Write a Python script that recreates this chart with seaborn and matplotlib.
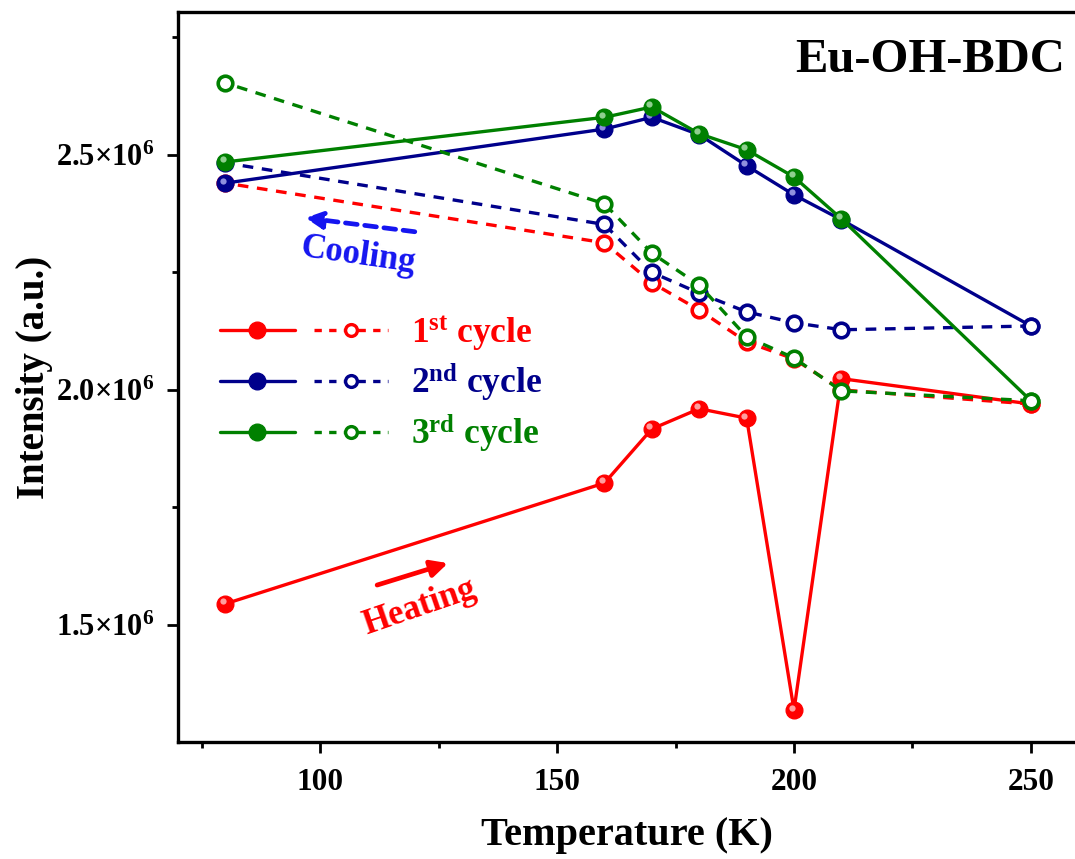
import matplotlib
matplotlib.use("Agg")
import matplotlib.pyplot as plt
import matplotlib.transforms as mtransforms
import seaborn as sns
import numpy as np
import pandas as pd
from matplotlib.lines import Line2D
from matplotlib.legend_handler import HandlerTuple
from matplotlib.ticker import MultipleLocator

# ---------------- data ----------------
temp_heat = [80, 160, 170, 180, 190, 200, 210, 250]
temp_cool = [250, 210, 200, 190, 180, 170, 160, 80]

c1_heat = [1.545e6, 1.802e6, 1.917e6, 1.960e6, 1.940e6, 1.319e6, 2.024e6, 1.970e6]
c1_cool = [1.970e6, 2.000e6, 2.066e6, 2.102e6, 2.170e6, 2.228e6, 2.313e6, 2.440e6]
c2_heat = [2.440e6, 2.555e6, 2.580e6, 2.543e6, 2.477e6, 2.415e6, 2.362e6, 2.136e6]
c2_cool = [2.136e6, 2.128e6, 2.143e6, 2.166e6, 2.206e6, 2.250e6, 2.352e6, 2.483e6]
c3_heat = [2.485e6, 2.580e6, 2.602e6, 2.545e6, 2.511e6, 2.453e6, 2.364e6, 1.977e6]
c3_cool = [1.977e6, 1.998e6, 2.068e6, 2.113e6, 2.223e6, 2.291e6, 2.396e6, 2.653e6]

cycle_labels = [r"1$^{\mathbf{st}}$ cycle", r"2$^{\mathbf{nd}}$ cycle", r"3$^{\mathbf{rd}}$ cycle"]
x_ticks = [100, 150, 200, 250]
y_ticks = [1.5e6, 2.0e6, 2.5e6]
y_tick_labels = [r"1.5$\times$10$^{6}$", r"2.0$\times$10$^{6}$", r"2.5$\times$10$^{6}$"]
title_text = "Eu-OH-BDC"
x_label = "Temperature (K)"
y_label = "Intensity (a.u.)"

colors = ["#FF0000", "#00008B", "#008000"]
highlights = ["#FFB0B0", "#A0A0E8", "#A0D8A0"]

# ---------------- style ----------------
sns.set_style("white")
plt.rcParams["font.family"] = ["Liberation Serif", "DejaVu Serif"]
plt.rcParams["font.weight"] = "bold"
plt.rcParams["mathtext.fontset"] = "custom"
plt.rcParams["mathtext.rm"] = "Liberation Serif:bold"
plt.rcParams["mathtext.bf"] = "Liberation Serif:bold"
plt.rcParams["mathtext.it"] = "Liberation Serif:bold"
plt.rcParams["mathtext.default"] = "bf"
plt.rcParams["text.color"] = "black"
plt.rcParams["axes.labelcolor"] = "black"
plt.rcParams["xtick.color"] = "black"
plt.rcParams["ytick.color"] = "black"

fig = plt.figure(figsize=(10.75, 8.59), dpi=100)
ax = fig.add_axes([178 / 1075, 1 - 742 / 859, 1 - 178 / 1075, (742 - 12) / 859])

hl_offset = ax.transData + mtransforms.ScaledTranslation(-2.5 / 100, 2.5 / 100, fig.dpi_scale_trans)

series = [(c1_heat, c1_cool), (c2_heat, c2_cool), (c3_heat, c3_cool)]
for (heat, cool), col, hl in zip(series, colors, highlights):
    sns.lineplot(x=temp_heat, y=heat, ax=ax, color=col, linewidth=2.4, sort=False,
                 estimator=None, marker="o", markersize=12, markerfacecolor=col,
                 markeredgecolor=col, markeredgewidth=1, legend=False)
    # glossy highlight on the ball markers
    ax.plot(temp_heat, heat, linestyle="none", marker="o", markersize=4.5,
            markerfacecolor=hl, markeredgecolor="none", alpha=0.9, transform=hl_offset)
    sns.lineplot(x=temp_cool, y=cool, ax=ax, color=col, linewidth=2.4, sort=False,
                 estimator=None, linestyle=(0, (3.2, 2.6)), marker="o", markersize=10.5,
                 markerfacecolor="white", markeredgecolor=col, markeredgewidth=2.6,
                 legend=False)

ax.set_xlim(70, 259.3)
ax.set_ylim(1.251e6, 2.804e6)

ax.set_xticks(x_ticks)
ax.set_xticklabels([str(v) for v in x_ticks])
ax.xaxis.set_minor_locator(MultipleLocator(25))
ax.set_yticks(y_ticks)
ax.set_yticklabels(y_tick_labels)
ax.yaxis.set_minor_locator(MultipleLocator(0.25e6))

ax.tick_params(axis="both", which="major", direction="out", length=8, width=2,
               color="black", labelcolor="black", bottom=True, left=True)
ax.tick_params(axis="both", which="minor", direction="out", length=4, width=2,
               color="black", bottom=True, left=True)
ax.tick_params(axis="x", which="major", labelsize=22.5, pad=11)
ax.tick_params(axis="y", which="major", labelsize=22, pad=9)

for side in ["left", "bottom", "top"]:
    ax.spines[side].set_linewidth(2.4)
    ax.spines[side].set_color("black")
ax.spines["right"].set_visible(False)

ax.set_xlabel(x_label, fontsize=29, fontweight="bold", labelpad=14, color="black")
ax.set_ylabel(y_label, fontsize=28, fontweight="bold", labelpad=2, color="black")

ax.text(0.989, 0.934, title_text, transform=ax.transAxes, ha="right", va="center",
        fontsize=35, fontweight="bold", color="black")

# annotations: cooling / heating
ax.annotate("", xy=(0.142, 0.718), xytext=(0.264, 0.699), xycoords="axes fraction",
            textcoords="axes fraction",
            arrowprops=dict(arrowstyle="-|>,head_length=1.0,head_width=0.5", color="#1515F0",
                            lw=3.4, linestyle=(0, (2.5, 1.6)), shrinkA=0, shrinkB=0))
ax.text(0.2007, 0.666, "Cooling", transform=ax.transAxes, ha="center", va="center",
        rotation=-8, fontsize=25, fontweight="bold", color="#1515F0")
ax.annotate("", xy=(0.301, 0.245), xytext=(0.222, 0.215), xycoords="axes fraction",
            textcoords="axes fraction",
            arrowprops=dict(arrowstyle="-|>,head_length=1.0,head_width=0.5", color="#FF0000",
                            lw=3.4, shrinkA=0, shrinkB=0))
ax.text(0.269, 0.185, "Heating", transform=ax.transAxes, ha="center", va="center",
        rotation=19, fontsize=25, fontweight="bold", color="#FF0000")

# legend
handles = []
for col in colors:
    h1 = Line2D([], [], color=col, linewidth=2.4, marker="o", markersize=12,
                markerfacecolor=col, markeredgecolor=col)
    h2 = Line2D([], [], color=col, linewidth=2.4, linestyle=(0, (2.2, 2.2)), marker="o",
                markersize=8.5, markerfacecolor="white", markeredgecolor=col, markeredgewidth=2.4)
    handles.append((h1, h2))
leg = ax.legend(handles, cycle_labels, handler_map={tuple: HandlerTuple(ndivide=None, pad=0.54)},
                loc="center left", bbox_to_anchor=(0.047, 0.49), frameon=False,
                borderpad=0, borderaxespad=0, handlelength=4.75, handletextpad=0.65,
                labelspacing=0.24, prop=dict(family="Liberation Serif", weight="bold", size=25.5))
for t, col in zip(leg.get_texts(), colors):
    t.set_color(col)

fig.savefig("out.png", dpi=100)
